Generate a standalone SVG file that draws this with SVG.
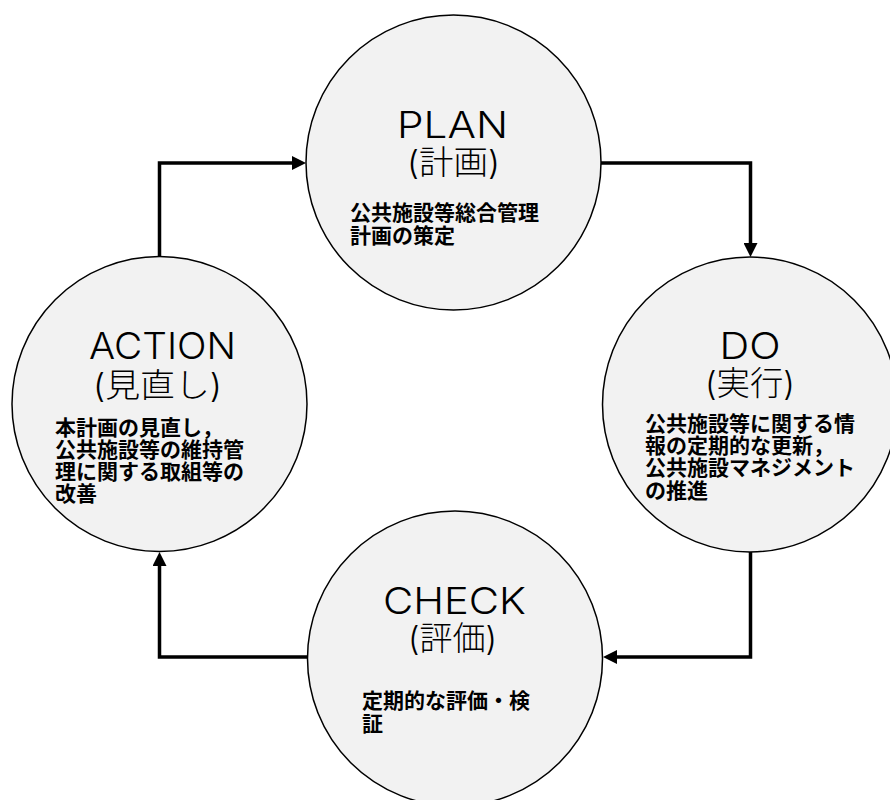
<svg xmlns="http://www.w3.org/2000/svg" width="890" height="800" viewBox="0 0 890 800">
  <style>
    .node { fill: #f2f2f2; stroke: #000000; stroke-width: 1.5; }
    .title { font-family: Inter, "DejaVu Sans", "Noto Sans CJK JP", sans-serif; font-weight: 300; font-size: 37px; fill: #000000; text-anchor: middle; }
    .sub { font-family: Inter, "Noto Sans CJK JP", sans-serif; font-weight: 300; font-size: 33px; fill: #000000; text-anchor: middle; }
    .body { font-family: "Noto Sans CJK JP", sans-serif; font-weight: bold; font-size: 21px; fill: #000000; }
    .conn { fill: none; stroke: #000000; stroke-width: 3.5; stroke-linejoin: miter; }
  </style>
  <defs>
    <marker id="arrow" markerUnits="userSpaceOnUse" markerWidth="14" markerHeight="14" viewBox="0 0 14 14" refX="2" refY="7" orient="auto">
      <path d="M0,0 L14,7 L0,14 Z" fill="#000000"/>
    </marker>
  </defs>

  <g id="connectors">
    <path class="conn" d="M601,163 H750.5 V245" marker-end="url(#arrow)"/>
    <path class="conn" d="M750.5,552 V657 H615" marker-end="url(#arrow)"/>
    <path class="conn" d="M307,657 H159.5 V564" marker-end="url(#arrow)"/>
    <path class="conn" d="M159.5,256 V163 H294" marker-end="url(#arrow)"/>
  </g>

  <g id="plan">
    <circle class="node" cx="453.5" cy="162.5" r="147.5"/>
    <text class="title" x="452.5" y="138" font-size="41" textLength="111" lengthAdjust="spacingAndGlyphs">PLAN</text>
    <text class="sub" x="453.5" y="174" textLength="93" lengthAdjust="spacingAndGlyphs">(計画)</text>
    <text class="body" x="350" y="220">公共施設等総合管理</text>
    <text class="body" x="350" y="242.5">計画の策定</text>
  </g>

  <g id="do">
    <circle class="node" cx="750" cy="404.5" r="147.5"/>
    <text class="title" x="750" y="359" textLength="61" lengthAdjust="spacingAndGlyphs">DO</text>
    <text class="sub" x="750" y="395" textLength="90" lengthAdjust="spacingAndGlyphs">(実行)</text>
    <text class="body" x="645" y="430.5">公共施設等に関する情</text>
    <text class="body" x="645" y="452.5">報の定期的な更新，</text>
    <text class="body" x="645" y="475">公共施設マネジメント</text>
    <text class="body" x="645" y="498">の推進</text>
  </g>

  <g id="check">
    <circle class="node" cx="455" cy="658.5" r="147.5"/>
    <text class="title" x="454.5" y="614" textLength="143" lengthAdjust="spacingAndGlyphs">CHECK</text>
    <text class="sub" x="452.5" y="650" textLength="89" lengthAdjust="spacingAndGlyphs">(評価)</text>
    <text class="body" x="362" y="707.5">定期的な評価・検</text>
    <text class="body" x="362" y="730.5">証</text>
  </g>

  <g id="action">
    <circle class="node" cx="159.5" cy="404" r="147.5"/>
    <text class="title" x="162.5" y="359" textLength="147" lengthAdjust="spacingAndGlyphs">ACTION</text>
    <text class="sub" x="157.5" y="397" textLength="129" lengthAdjust="spacingAndGlyphs">(見直し)</text>
    <text class="body" x="55" y="435">本計画の見直し，</text>
    <text class="body" x="55" y="457">公共施設等の維持管</text>
    <text class="body" x="55" y="479">理に関する取組等の</text>
    <text class="body" x="55" y="501">改善</text>
  </g>
</svg>
